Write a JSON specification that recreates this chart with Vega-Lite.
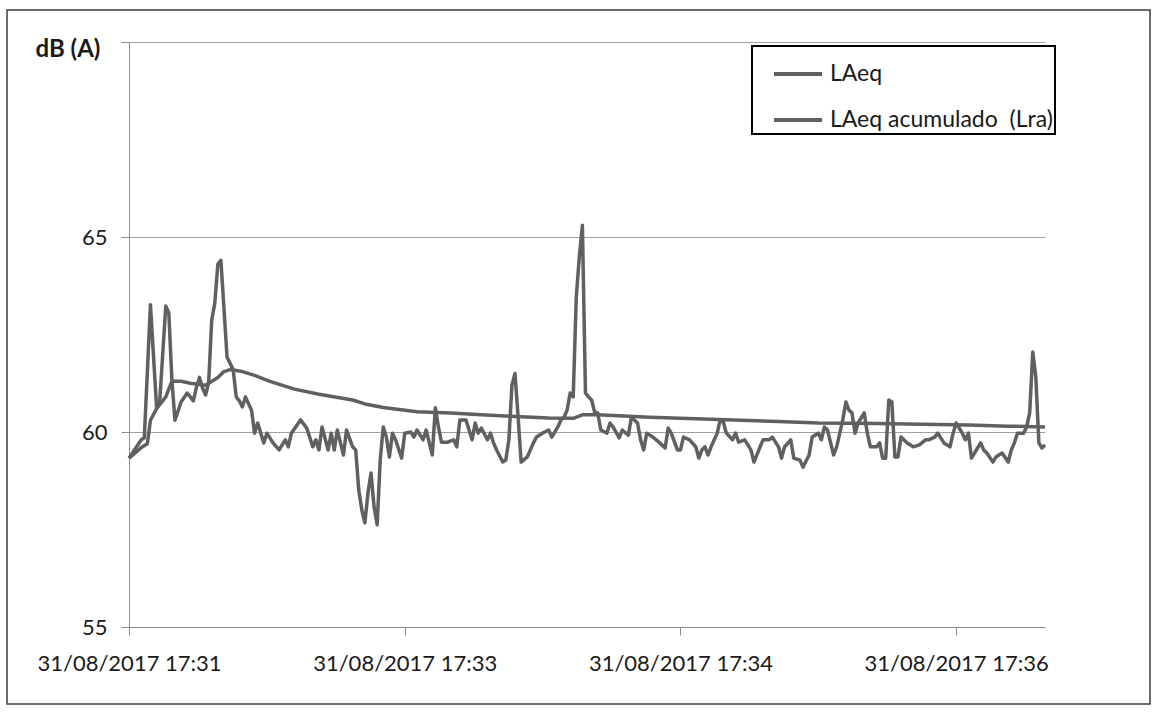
{
  "$schema": "https://vega.github.io/schema/vega-lite/v6.json",
  "autosize": {"type": "none"},
  "padding": {"left": 7, "top": 10, "right": 9, "bottom": 9},
  "width": 1143,
  "height": 694,
  "background": "white",
  "config": {
    "view": {"stroke": "#3c3c3c", "strokeWidth": 1.5},
    "font": "Lato"
  },
  "data": {
    "values": [
      {"t": "2017-08-31 17:31:50", "serie": "LAeq", "v": 59.33},
      {"t": "2017-08-31 17:31:54", "serie": "LAeq", "v": 59.8},
      {"t": "2017-08-31 17:31:55", "serie": "LAeq", "v": 59.85},
      {"t": "2017-08-31 17:31:57", "serie": "LAeq", "v": 63.26},
      {"t": "2017-08-31 17:31:59", "serie": "LAeq", "v": 60.64},
      {"t": "2017-08-31 17:32:00", "serie": "LAeq", "v": 60.75},
      {"t": "2017-08-31 17:32:02", "serie": "LAeq", "v": 63.23},
      {"t": "2017-08-31 17:32:03", "serie": "LAeq", "v": 63.05},
      {"t": "2017-08-31 17:32:04", "serie": "LAeq", "v": 61.33},
      {"t": "2017-08-31 17:32:05", "serie": "LAeq", "v": 60.3},
      {"t": "2017-08-31 17:32:07", "serie": "LAeq", "v": 60.77},
      {"t": "2017-08-31 17:32:09", "serie": "LAeq", "v": 61.0},
      {"t": "2017-08-31 17:32:11", "serie": "LAeq", "v": 60.8},
      {"t": "2017-08-31 17:32:12", "serie": "LAeq", "v": 61.15},
      {"t": "2017-08-31 17:32:13", "serie": "LAeq", "v": 61.4},
      {"t": "2017-08-31 17:32:14", "serie": "LAeq", "v": 61.13},
      {"t": "2017-08-31 17:32:15", "serie": "LAeq", "v": 60.95},
      {"t": "2017-08-31 17:32:16", "serie": "LAeq", "v": 61.26},
      {"t": "2017-08-31 17:32:17", "serie": "LAeq", "v": 62.87},
      {"t": "2017-08-31 17:32:18", "serie": "LAeq", "v": 63.3},
      {"t": "2017-08-31 17:32:19", "serie": "LAeq", "v": 64.3},
      {"t": "2017-08-31 17:32:20", "serie": "LAeq", "v": 64.4},
      {"t": "2017-08-31 17:32:22", "serie": "LAeq", "v": 61.92},
      {"t": "2017-08-31 17:32:24", "serie": "LAeq", "v": 61.6},
      {"t": "2017-08-31 17:32:25", "serie": "LAeq", "v": 60.9},
      {"t": "2017-08-31 17:32:26", "serie": "LAeq", "v": 60.8},
      {"t": "2017-08-31 17:32:27", "serie": "LAeq", "v": 60.64},
      {"t": "2017-08-31 17:32:28", "serie": "LAeq", "v": 60.9},
      {"t": "2017-08-31 17:32:30", "serie": "LAeq", "v": 60.56},
      {"t": "2017-08-31 17:32:31", "serie": "LAeq", "v": 59.97},
      {"t": "2017-08-31 17:32:32", "serie": "LAeq", "v": 60.23},
      {"t": "2017-08-31 17:32:34", "serie": "LAeq", "v": 59.72},
      {"t": "2017-08-31 17:32:35", "serie": "LAeq", "v": 59.97},
      {"t": "2017-08-31 17:32:37", "serie": "LAeq", "v": 59.72},
      {"t": "2017-08-31 17:32:39", "serie": "LAeq", "v": 59.54},
      {"t": "2017-08-31 17:32:41", "serie": "LAeq", "v": 59.8},
      {"t": "2017-08-31 17:32:42", "serie": "LAeq", "v": 59.62},
      {"t": "2017-08-31 17:32:43", "serie": "LAeq", "v": 59.97},
      {"t": "2017-08-31 17:32:46", "serie": "LAeq", "v": 60.31},
      {"t": "2017-08-31 17:32:48", "serie": "LAeq", "v": 60.1},
      {"t": "2017-08-31 17:32:50", "serie": "LAeq", "v": 59.62},
      {"t": "2017-08-31 17:32:51", "serie": "LAeq", "v": 59.8},
      {"t": "2017-08-31 17:32:52", "serie": "LAeq", "v": 59.54},
      {"t": "2017-08-31 17:32:53", "serie": "LAeq", "v": 60.13},
      {"t": "2017-08-31 17:32:55", "serie": "LAeq", "v": 59.54},
      {"t": "2017-08-31 17:32:56", "serie": "LAeq", "v": 59.97},
      {"t": "2017-08-31 17:32:57", "serie": "LAeq", "v": 59.54},
      {"t": "2017-08-31 17:32:58", "serie": "LAeq", "v": 60.05},
      {"t": "2017-08-31 17:33:00", "serie": "LAeq", "v": 59.41},
      {"t": "2017-08-31 17:33:01", "serie": "LAeq", "v": 60.05},
      {"t": "2017-08-31 17:33:03", "serie": "LAeq", "v": 59.62},
      {"t": "2017-08-31 17:33:04", "serie": "LAeq", "v": 59.54},
      {"t": "2017-08-31 17:33:05", "serie": "LAeq", "v": 58.51},
      {"t": "2017-08-31 17:33:06", "serie": "LAeq", "v": 58.0},
      {"t": "2017-08-31 17:33:07", "serie": "LAeq", "v": 57.67},
      {"t": "2017-08-31 17:33:08", "serie": "LAeq", "v": 58.44},
      {"t": "2017-08-31 17:33:09", "serie": "LAeq", "v": 58.95},
      {"t": "2017-08-31 17:33:10", "serie": "LAeq", "v": 58.08},
      {"t": "2017-08-31 17:33:11", "serie": "LAeq", "v": 57.62},
      {"t": "2017-08-31 17:33:12", "serie": "LAeq", "v": 59.28},
      {"t": "2017-08-31 17:33:13", "serie": "LAeq", "v": 60.13},
      {"t": "2017-08-31 17:33:14", "serie": "LAeq", "v": 59.87},
      {"t": "2017-08-31 17:33:15", "serie": "LAeq", "v": 59.36},
      {"t": "2017-08-31 17:33:16", "serie": "LAeq", "v": 59.97},
      {"t": "2017-08-31 17:33:17", "serie": "LAeq", "v": 59.8},
      {"t": "2017-08-31 17:33:19", "serie": "LAeq", "v": 59.33},
      {"t": "2017-08-31 17:33:20", "serie": "LAeq", "v": 59.97},
      {"t": "2017-08-31 17:33:22", "serie": "LAeq", "v": 60.0},
      {"t": "2017-08-31 17:33:23", "serie": "LAeq", "v": 59.87},
      {"t": "2017-08-31 17:33:24", "serie": "LAeq", "v": 60.05},
      {"t": "2017-08-31 17:33:26", "serie": "LAeq", "v": 59.8},
      {"t": "2017-08-31 17:33:27", "serie": "LAeq", "v": 60.05},
      {"t": "2017-08-31 17:33:29", "serie": "LAeq", "v": 59.41},
      {"t": "2017-08-31 17:33:30", "serie": "LAeq", "v": 60.62},
      {"t": "2017-08-31 17:33:31", "serie": "LAeq", "v": 60.13},
      {"t": "2017-08-31 17:33:32", "serie": "LAeq", "v": 59.74},
      {"t": "2017-08-31 17:33:34", "serie": "LAeq", "v": 59.74},
      {"t": "2017-08-31 17:33:36", "serie": "LAeq", "v": 59.8},
      {"t": "2017-08-31 17:33:37", "serie": "LAeq", "v": 59.62},
      {"t": "2017-08-31 17:33:38", "serie": "LAeq", "v": 60.31},
      {"t": "2017-08-31 17:33:40", "serie": "LAeq", "v": 60.31},
      {"t": "2017-08-31 17:33:41", "serie": "LAeq", "v": 60.05},
      {"t": "2017-08-31 17:33:42", "serie": "LAeq", "v": 59.8},
      {"t": "2017-08-31 17:33:43", "serie": "LAeq", "v": 60.23},
      {"t": "2017-08-31 17:33:44", "serie": "LAeq", "v": 59.97},
      {"t": "2017-08-31 17:33:45", "serie": "LAeq", "v": 60.1},
      {"t": "2017-08-31 17:33:47", "serie": "LAeq", "v": 59.8},
      {"t": "2017-08-31 17:33:48", "serie": "LAeq", "v": 59.97},
      {"t": "2017-08-31 17:33:49", "serie": "LAeq", "v": 59.72},
      {"t": "2017-08-31 17:33:50", "serie": "LAeq", "v": 59.54},
      {"t": "2017-08-31 17:33:52", "serie": "LAeq", "v": 59.23},
      {"t": "2017-08-31 17:33:53", "serie": "LAeq", "v": 59.28},
      {"t": "2017-08-31 17:33:54", "serie": "LAeq", "v": 59.8},
      {"t": "2017-08-31 17:33:55", "serie": "LAeq", "v": 61.2},
      {"t": "2017-08-31 17:33:56", "serie": "LAeq", "v": 61.5},
      {"t": "2017-08-31 17:33:57", "serie": "LAeq", "v": 60.4},
      {"t": "2017-08-31 17:33:58", "serie": "LAeq", "v": 59.23},
      {"t": "2017-08-31 17:34:00", "serie": "LAeq", "v": 59.36},
      {"t": "2017-08-31 17:34:02", "serie": "LAeq", "v": 59.72},
      {"t": "2017-08-31 17:34:03", "serie": "LAeq", "v": 59.87},
      {"t": "2017-08-31 17:34:05", "serie": "LAeq", "v": 59.97},
      {"t": "2017-08-31 17:34:07", "serie": "LAeq", "v": 60.05},
      {"t": "2017-08-31 17:34:08", "serie": "LAeq", "v": 59.87},
      {"t": "2017-08-31 17:34:10", "serie": "LAeq", "v": 60.13},
      {"t": "2017-08-31 17:34:11", "serie": "LAeq", "v": 60.31},
      {"t": "2017-08-31 17:34:12", "serie": "LAeq", "v": 60.38},
      {"t": "2017-08-31 17:34:13", "serie": "LAeq", "v": 60.56},
      {"t": "2017-08-31 17:34:14", "serie": "LAeq", "v": 61.0},
      {"t": "2017-08-31 17:34:15", "serie": "LAeq", "v": 60.9},
      {"t": "2017-08-31 17:34:16", "serie": "LAeq", "v": 63.46},
      {"t": "2017-08-31 17:34:17", "serie": "LAeq", "v": 64.5},
      {"t": "2017-08-31 17:34:18", "serie": "LAeq", "v": 65.3},
      {"t": "2017-08-31 17:34:19", "serie": "LAeq", "v": 61.0},
      {"t": "2017-08-31 17:34:20", "serie": "LAeq", "v": 60.9},
      {"t": "2017-08-31 17:34:21", "serie": "LAeq", "v": 60.82},
      {"t": "2017-08-31 17:34:22", "serie": "LAeq", "v": 60.51},
      {"t": "2017-08-31 17:34:23", "serie": "LAeq", "v": 60.49},
      {"t": "2017-08-31 17:34:24", "serie": "LAeq", "v": 60.05},
      {"t": "2017-08-31 17:34:26", "serie": "LAeq", "v": 59.97},
      {"t": "2017-08-31 17:34:27", "serie": "LAeq", "v": 60.23},
      {"t": "2017-08-31 17:34:28", "serie": "LAeq", "v": 60.13},
      {"t": "2017-08-31 17:34:30", "serie": "LAeq", "v": 59.85},
      {"t": "2017-08-31 17:34:31", "serie": "LAeq", "v": 60.05},
      {"t": "2017-08-31 17:34:33", "serie": "LAeq", "v": 59.92},
      {"t": "2017-08-31 17:34:34", "serie": "LAeq", "v": 60.38},
      {"t": "2017-08-31 17:34:36", "serie": "LAeq", "v": 60.23},
      {"t": "2017-08-31 17:34:37", "serie": "LAeq", "v": 59.8},
      {"t": "2017-08-31 17:34:38", "serie": "LAeq", "v": 59.54},
      {"t": "2017-08-31 17:34:39", "serie": "LAeq", "v": 59.97},
      {"t": "2017-08-31 17:34:41", "serie": "LAeq", "v": 59.87},
      {"t": "2017-08-31 17:34:43", "serie": "LAeq", "v": 59.74},
      {"t": "2017-08-31 17:34:45", "serie": "LAeq", "v": 59.59},
      {"t": "2017-08-31 17:34:46", "serie": "LAeq", "v": 60.1},
      {"t": "2017-08-31 17:34:47", "serie": "LAeq", "v": 59.97},
      {"t": "2017-08-31 17:34:49", "serie": "LAeq", "v": 59.54},
      {"t": "2017-08-31 17:34:50", "serie": "LAeq", "v": 59.54},
      {"t": "2017-08-31 17:34:51", "serie": "LAeq", "v": 59.87},
      {"t": "2017-08-31 17:34:53", "serie": "LAeq", "v": 59.8},
      {"t": "2017-08-31 17:34:55", "serie": "LAeq", "v": 59.62},
      {"t": "2017-08-31 17:34:56", "serie": "LAeq", "v": 59.33},
      {"t": "2017-08-31 17:34:57", "serie": "LAeq", "v": 59.54},
      {"t": "2017-08-31 17:34:58", "serie": "LAeq", "v": 59.62},
      {"t": "2017-08-31 17:34:59", "serie": "LAeq", "v": 59.41},
      {"t": "2017-08-31 17:35:00", "serie": "LAeq", "v": 59.62},
      {"t": "2017-08-31 17:35:02", "serie": "LAeq", "v": 59.97},
      {"t": "2017-08-31 17:35:03", "serie": "LAeq", "v": 60.31},
      {"t": "2017-08-31 17:35:04", "serie": "LAeq", "v": 60.26},
      {"t": "2017-08-31 17:35:05", "serie": "LAeq", "v": 59.97},
      {"t": "2017-08-31 17:35:07", "serie": "LAeq", "v": 59.8},
      {"t": "2017-08-31 17:35:08", "serie": "LAeq", "v": 59.97},
      {"t": "2017-08-31 17:35:09", "serie": "LAeq", "v": 59.74},
      {"t": "2017-08-31 17:35:11", "serie": "LAeq", "v": 59.8},
      {"t": "2017-08-31 17:35:12", "serie": "LAeq", "v": 59.67},
      {"t": "2017-08-31 17:35:13", "serie": "LAeq", "v": 59.54},
      {"t": "2017-08-31 17:35:14", "serie": "LAeq", "v": 59.23},
      {"t": "2017-08-31 17:35:16", "serie": "LAeq", "v": 59.62},
      {"t": "2017-08-31 17:35:17", "serie": "LAeq", "v": 59.8},
      {"t": "2017-08-31 17:35:19", "serie": "LAeq", "v": 59.8},
      {"t": "2017-08-31 17:35:20", "serie": "LAeq", "v": 59.87},
      {"t": "2017-08-31 17:35:22", "serie": "LAeq", "v": 59.62},
      {"t": "2017-08-31 17:35:23", "serie": "LAeq", "v": 59.33},
      {"t": "2017-08-31 17:35:24", "serie": "LAeq", "v": 59.62},
      {"t": "2017-08-31 17:35:26", "serie": "LAeq", "v": 59.8},
      {"t": "2017-08-31 17:35:27", "serie": "LAeq", "v": 59.33},
      {"t": "2017-08-31 17:35:29", "serie": "LAeq", "v": 59.28},
      {"t": "2017-08-31 17:35:30", "serie": "LAeq", "v": 59.1},
      {"t": "2017-08-31 17:35:32", "serie": "LAeq", "v": 59.41},
      {"t": "2017-08-31 17:35:33", "serie": "LAeq", "v": 59.87},
      {"t": "2017-08-31 17:35:35", "serie": "LAeq", "v": 59.97},
      {"t": "2017-08-31 17:35:36", "serie": "LAeq", "v": 59.8},
      {"t": "2017-08-31 17:35:37", "serie": "LAeq", "v": 60.13},
      {"t": "2017-08-31 17:35:38", "serie": "LAeq", "v": 60.05},
      {"t": "2017-08-31 17:35:40", "serie": "LAeq", "v": 59.41},
      {"t": "2017-08-31 17:35:41", "serie": "LAeq", "v": 59.62},
      {"t": "2017-08-31 17:35:43", "serie": "LAeq", "v": 60.31},
      {"t": "2017-08-31 17:35:44", "serie": "LAeq", "v": 60.77},
      {"t": "2017-08-31 17:35:45", "serie": "LAeq", "v": 60.56},
      {"t": "2017-08-31 17:35:46", "serie": "LAeq", "v": 60.49},
      {"t": "2017-08-31 17:35:47", "serie": "LAeq", "v": 59.97},
      {"t": "2017-08-31 17:35:48", "serie": "LAeq", "v": 60.23},
      {"t": "2017-08-31 17:35:50", "serie": "LAeq", "v": 60.49},
      {"t": "2017-08-31 17:35:51", "serie": "LAeq", "v": 59.97},
      {"t": "2017-08-31 17:35:52", "serie": "LAeq", "v": 59.62},
      {"t": "2017-08-31 17:35:54", "serie": "LAeq", "v": 59.62},
      {"t": "2017-08-31 17:35:55", "serie": "LAeq", "v": 59.72},
      {"t": "2017-08-31 17:35:56", "serie": "LAeq", "v": 59.33},
      {"t": "2017-08-31 17:35:57", "serie": "LAeq", "v": 59.33},
      {"t": "2017-08-31 17:35:58", "serie": "LAeq", "v": 60.82},
      {"t": "2017-08-31 17:35:59", "serie": "LAeq", "v": 60.77},
      {"t": "2017-08-31 17:36:00", "serie": "LAeq", "v": 59.36},
      {"t": "2017-08-31 17:36:01", "serie": "LAeq", "v": 59.36},
      {"t": "2017-08-31 17:36:02", "serie": "LAeq", "v": 59.87},
      {"t": "2017-08-31 17:36:04", "serie": "LAeq", "v": 59.72},
      {"t": "2017-08-31 17:36:06", "serie": "LAeq", "v": 59.62},
      {"t": "2017-08-31 17:36:08", "serie": "LAeq", "v": 59.67},
      {"t": "2017-08-31 17:36:10", "serie": "LAeq", "v": 59.8},
      {"t": "2017-08-31 17:36:11", "serie": "LAeq", "v": 59.8},
      {"t": "2017-08-31 17:36:13", "serie": "LAeq", "v": 59.87},
      {"t": "2017-08-31 17:36:14", "serie": "LAeq", "v": 59.97},
      {"t": "2017-08-31 17:36:16", "serie": "LAeq", "v": 59.72},
      {"t": "2017-08-31 17:36:18", "serie": "LAeq", "v": 59.62},
      {"t": "2017-08-31 17:36:19", "serie": "LAeq", "v": 59.97},
      {"t": "2017-08-31 17:36:20", "serie": "LAeq", "v": 60.23},
      {"t": "2017-08-31 17:36:22", "serie": "LAeq", "v": 59.97},
      {"t": "2017-08-31 17:36:23", "serie": "LAeq", "v": 59.8},
      {"t": "2017-08-31 17:36:24", "serie": "LAeq", "v": 59.97},
      {"t": "2017-08-31 17:36:25", "serie": "LAeq", "v": 59.33},
      {"t": "2017-08-31 17:36:27", "serie": "LAeq", "v": 59.59},
      {"t": "2017-08-31 17:36:28", "serie": "LAeq", "v": 59.72},
      {"t": "2017-08-31 17:36:29", "serie": "LAeq", "v": 59.54},
      {"t": "2017-08-31 17:36:30", "serie": "LAeq", "v": 59.46},
      {"t": "2017-08-31 17:36:32", "serie": "LAeq", "v": 59.23},
      {"t": "2017-08-31 17:36:33", "serie": "LAeq", "v": 59.36},
      {"t": "2017-08-31 17:36:35", "serie": "LAeq", "v": 59.46},
      {"t": "2017-08-31 17:36:37", "serie": "LAeq", "v": 59.23},
      {"t": "2017-08-31 17:36:38", "serie": "LAeq", "v": 59.54},
      {"t": "2017-08-31 17:36:39", "serie": "LAeq", "v": 59.72},
      {"t": "2017-08-31 17:36:40", "serie": "LAeq", "v": 59.97},
      {"t": "2017-08-31 17:36:42", "serie": "LAeq", "v": 59.97},
      {"t": "2017-08-31 17:36:43", "serie": "LAeq", "v": 60.13},
      {"t": "2017-08-31 17:36:44", "serie": "LAeq", "v": 60.49},
      {"t": "2017-08-31 17:36:45", "serie": "LAeq", "v": 62.05},
      {"t": "2017-08-31 17:36:46", "serie": "LAeq", "v": 61.41},
      {"t": "2017-08-31 17:36:47", "serie": "LAeq", "v": 59.72},
      {"t": "2017-08-31 17:36:48", "serie": "LAeq", "v": 59.59},
      {"t": "2017-08-31 17:36:49", "serie": "LAeq", "v": 59.67},
      {"t": "2017-08-31 17:31:50", "serie": "LAeq acumulado\u00a0 (Lra)", "v": 59.33},
      {"t": "2017-08-31 17:31:54", "serie": "LAeq acumulado\u00a0 (Lra)", "v": 59.6},
      {"t": "2017-08-31 17:31:56", "serie": "LAeq acumulado\u00a0 (Lra)", "v": 59.7},
      {"t": "2017-08-31 17:31:57", "serie": "LAeq acumulado\u00a0 (Lra)", "v": 60.3},
      {"t": "2017-08-31 17:31:59", "serie": "LAeq acumulado\u00a0 (Lra)", "v": 60.6},
      {"t": "2017-08-31 17:32:02", "serie": "LAeq acumulado\u00a0 (Lra)", "v": 60.9},
      {"t": "2017-08-31 17:32:04", "serie": "LAeq acumulado\u00a0 (Lra)", "v": 61.3},
      {"t": "2017-08-31 17:32:07", "serie": "LAeq acumulado\u00a0 (Lra)", "v": 61.3},
      {"t": "2017-08-31 17:32:10", "serie": "LAeq acumulado\u00a0 (Lra)", "v": 61.25},
      {"t": "2017-08-31 17:32:15", "serie": "LAeq acumulado\u00a0 (Lra)", "v": 61.2},
      {"t": "2017-08-31 17:32:19", "serie": "LAeq acumulado\u00a0 (Lra)", "v": 61.4},
      {"t": "2017-08-31 17:32:21", "serie": "LAeq acumulado\u00a0 (Lra)", "v": 61.55},
      {"t": "2017-08-31 17:32:23", "serie": "LAeq acumulado\u00a0 (Lra)", "v": 61.6},
      {"t": "2017-08-31 17:32:27", "serie": "LAeq acumulado\u00a0 (Lra)", "v": 61.55},
      {"t": "2017-08-31 17:32:31", "serie": "LAeq acumulado\u00a0 (Lra)", "v": 61.45},
      {"t": "2017-08-31 17:32:36", "serie": "LAeq acumulado\u00a0 (Lra)", "v": 61.3},
      {"t": "2017-08-31 17:32:44", "serie": "LAeq acumulado\u00a0 (Lra)", "v": 61.1},
      {"t": "2017-08-31 17:32:52", "serie": "LAeq acumulado\u00a0 (Lra)", "v": 60.97},
      {"t": "2017-08-31 17:33:03", "serie": "LAeq acumulado\u00a0 (Lra)", "v": 60.82},
      {"t": "2017-08-31 17:33:07", "serie": "LAeq acumulado\u00a0 (Lra)", "v": 60.72},
      {"t": "2017-08-31 17:33:13", "serie": "LAeq acumulado\u00a0 (Lra)", "v": 60.63},
      {"t": "2017-08-31 17:33:24", "serie": "LAeq acumulado\u00a0 (Lra)", "v": 60.52},
      {"t": "2017-08-31 17:33:35", "serie": "LAeq acumulado\u00a0 (Lra)", "v": 60.49},
      {"t": "2017-08-31 17:33:45", "serie": "LAeq acumulado\u00a0 (Lra)", "v": 60.44},
      {"t": "2017-08-31 17:33:56", "serie": "LAeq acumulado\u00a0 (Lra)", "v": 60.4},
      {"t": "2017-08-31 17:34:07", "serie": "LAeq acumulado\u00a0 (Lra)", "v": 60.36},
      {"t": "2017-08-31 17:34:15", "serie": "LAeq acumulado\u00a0 (Lra)", "v": 60.35},
      {"t": "2017-08-31 17:34:18", "serie": "LAeq acumulado\u00a0 (Lra)", "v": 60.44},
      {"t": "2017-08-31 17:34:23", "serie": "LAeq acumulado\u00a0 (Lra)", "v": 60.44},
      {"t": "2017-08-31 17:34:40", "serie": "LAeq acumulado\u00a0 (Lra)", "v": 60.38},
      {"t": "2017-08-31 17:35:00", "serie": "LAeq acumulado\u00a0 (Lra)", "v": 60.33},
      {"t": "2017-08-31 17:35:22", "serie": "LAeq acumulado\u00a0 (Lra)", "v": 60.27},
      {"t": "2017-08-31 17:35:35", "serie": "LAeq acumulado\u00a0 (Lra)", "v": 60.23},
      {"t": "2017-08-31 17:35:54", "serie": "LAeq acumulado\u00a0 (Lra)", "v": 60.22},
      {"t": "2017-08-31 17:36:24", "serie": "LAeq acumulado\u00a0 (Lra)", "v": 60.18},
      {"t": "2017-08-31 17:36:37", "serie": "LAeq acumulado\u00a0 (Lra)", "v": 60.15},
      {"t": "2017-08-31 17:36:49", "serie": "LAeq acumulado\u00a0 (Lra)", "v": 60.13}
    ],
    "format": {"parse": {"t": "date:'%Y-%m-%d %H:%M:%S'"}}
  },
  "mark": {"type": "line", "strokeWidth": 3.5, "strokeJoin": "round"},
  "encoding": {
    "x": {
      "field": "t",
      "type": "temporal",
      "scale": {
        "domain": [
          {"year": 2017, "month": 8, "date": 31, "hours": 17, "minutes": 31, "seconds": 50},
          {"year": 2017, "month": 8, "date": 31, "hours": 17, "minutes": 36, "seconds": 49}
        ],
        "range": [122, 1038]
      },
      "axis": {
        "orient": "bottom",
        "offset": -77,
        "title": null,
        "grid": false,
        "values": [
          {"year": 2017, "month": 8, "date": 31, "hours": 17, "minutes": 31, "seconds": 50},
          {"year": 2017, "month": 8, "date": 31, "hours": 17, "minutes": 33, "seconds": 20},
          {"year": 2017, "month": 8, "date": 31, "hours": 17, "minutes": 34, "seconds": 50},
          {"year": 2017, "month": 8, "date": 31, "hours": 17, "minutes": 36, "seconds": 20}
        ],
        "format": "%d/%m/%Y %H:%M",
        "labelFont": "Lato",
        "labelFontSize": 22,
        "labelColor": "#1a1a1a",
        "labelPadding": 18,
        "labelLimit": 500,
        "labelFlush": false,
        "labelOverlap": false,
        "tickSize": 8,
        "tickColor": "#8c8c8c",
        "domainColor": "#8c8c8c"
      }
    },
    "y": {
      "field": "v",
      "type": "quantitative",
      "scale": {"domain": [55, 70], "range": [617, 32], "nice": false, "zero": false},
      "axis": {
        "orient": "left",
        "offset": -122,
        "values": [55, 60, 65, 70],
        "labelExpr": "datum.value == 70 ? '' : datum.label",
        "grid": true,
        "gridColor": "#a0a0a0",
        "tickSize": 8,
        "tickColor": "#8c8c8c",
        "domainColor": "#8c8c8c",
        "labelFont": "Lato",
        "labelFontSize": 22,
        "labelColor": "#1a1a1a",
        "labelPadding": 14,
        "title": "dB (A)",
        "titleAngle": 0,
        "titleX": -94,
        "titleY": 39,
        "titleAlign": "left",
        "titleBaseline": "middle",
        "titleFont": "Lato",
        "titleFontSize": 24,
        "titleFontWeight": "bold",
        "titleColor": "#1a1a1a"
      }
    },
    "color": {
      "field": "serie",
      "type": "nominal",
      "scale": {"domain": ["LAeq", "LAeq acumulado\u00a0 (Lra)"], "range": ["#606060", "#606060"]},
      "legend": {
        "title": null,
        "orient": "none",
        "legendX": 745,
        "legendY": 36,
        "direction": "vertical",
        "strokeColor": "#000000",
        "fillColor": "white",
        "padding": 2,
        "symbolOffset": 18,
        "symbolType": "stroke",
        "symbolSize": 2304,
        "symbolStrokeWidth": 4,
        "labelFont": "Lato",
        "labelFontSize": 23,
        "labelColor": "#1a1a1a",
        "labelOffset": 6,
        "labelLimit": 500,
        "rowPadding": 8,
        "encode": {"legend": {"update": {"strokeWidth": {"value": 2}}}}
      }
    }
  }
}
